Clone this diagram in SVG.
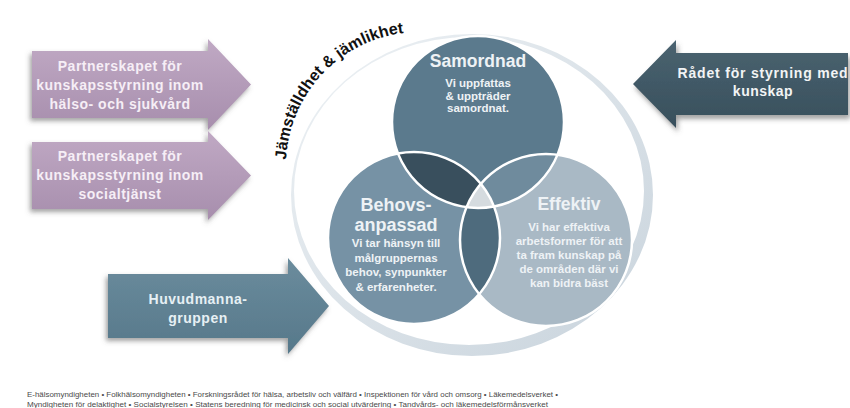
<svg xmlns="http://www.w3.org/2000/svg" width="850" height="408" viewBox="0 0 850 408">
<defs>
<style>
.arrowtxt{font-family:"Liberation Sans",Arial,sans-serif;font-weight:bold;font-size:14px;letter-spacing:0.5px;text-anchor:middle}
.ctitle{font-family:"Liberation Sans",Arial,sans-serif;font-weight:bold;font-size:17.5px;text-anchor:middle;fill:#eef2f5}
.cbody{font-family:"Liberation Sans",Arial,sans-serif;font-weight:bold;font-size:11.5px;text-anchor:middle;fill:#eef2f5}
.foot{font-family:"Liberation Sans",Arial,sans-serif;font-size:7px;fill:#4a4a4a}
.outline{fill:none;stroke:#ffffff;stroke-width:2.5}
</style>
<linearGradient id="gPurple" x1="0" y1="0" x2="0" y2="1">
<stop offset="0" stop-color="#c0a9c4"/><stop offset="1" stop-color="#a78ead"/>
</linearGradient>
<linearGradient id="gSteel" x1="0" y1="0" x2="0" y2="1">
<stop offset="0" stop-color="#6b8c9d"/><stop offset="1" stop-color="#56788a"/>
</linearGradient>
<linearGradient id="gDark" x1="0" y1="0" x2="0" y2="1">
<stop offset="0" stop-color="#4a6370"/><stop offset="1" stop-color="#384f5c"/>
</linearGradient>
<linearGradient id="gRing" x1="0" y1="0" x2="1" y2="1">
<stop offset="0" stop-color="#eef2f5"/><stop offset="1" stop-color="#c8d3dc"/>
</linearGradient>
<filter id="shL" x="-10%" y="-20%" width="120%" height="150%">
<feDropShadow dx="-2" dy="3" stdDeviation="2.5" flood-color="#555" flood-opacity="0.55"/>
</filter>
<filter id="shR" x="-10%" y="-20%" width="120%" height="150%">
<feDropShadow dx="2" dy="4" stdDeviation="2.5" flood-color="#555" flood-opacity="0.55"/>
</filter>
<clipPath id="cA"><circle cx="478" cy="122" r="86"/></clipPath>
<clipPath id="cB"><circle cx="414" cy="238" r="86"/></clipPath>
<path id="arcPath" d="M286.1,170.7 A134,134 0 0 1 443.3,34"/>
</defs>
<rect width="850" height="408" fill="#ffffff"/>

<g id="ring">
<path d="M291,195 a181,161 0 1 0 362,0 a181,161 0 1 0 -362,0 Z M294,191 a175,154 0 1 1 350,0 a175,154 0 1 1 -350,0 Z" fill="url(#gRing)" fill-rule="evenodd"/>
</g>

<g id="venn">
<g id="samordnad">
<circle cx="478" cy="122" r="86" fill="#5b7a8d"/>
</g>
<g id="behovsanpassad">
<circle cx="414" cy="238" r="86" fill="#7692a5"/>
</g>
<g id="effektiv">
<circle cx="546" cy="240" r="86" fill="#a9b9c5"/>
</g>
<circle cx="414" cy="238" r="86" fill="#394f5d" clip-path="url(#cA)"/>
<circle cx="546" cy="240" r="86" fill="#6f8b9d" clip-path="url(#cA)"/>
<circle cx="546" cy="240" r="86" fill="#4e6b7d" clip-path="url(#cB)"/>
<g clip-path="url(#cB)"><circle cx="546" cy="240" r="86" fill="#d5dbdf" clip-path="url(#cA)"/></g>
<circle class="outline" cx="478" cy="122" r="86"/>
<circle class="outline" cx="414" cy="238" r="86"/>
<circle class="outline" cx="546" cy="240" r="86"/>
<g id="samordnad-text">
<text class="ctitle" x="478" y="67">Samordnad</text>
<text class="cbody" x="478" y="87">Vi uppfattas</text>
<text class="cbody" x="478" y="99.5">&amp; uppträder</text>
<text class="cbody" x="478" y="112">samordnat.</text>
</g>
<g id="behovsanpassad-text">
<text class="ctitle" x="396" y="211" style="font-size:18px">Behovs-</text>
<text class="ctitle" x="396" y="231" style="font-size:18px">anpassad</text>
<text class="cbody" x="396" y="247">Vi tar hänsyn till</text>
<text class="cbody" x="396" y="261.5">målgruppernas</text>
<text class="cbody" x="396" y="276">behov, synpunkter</text>
<text class="cbody" x="396" y="290.5">&amp; erfarenheter.</text>
</g>
<g id="effektiv-text">
<text class="ctitle" x="569" y="210">Effektiv</text>
<text class="cbody" x="569" y="231">Vi har effektiva</text>
<text class="cbody" x="569" y="245">arbetsformer för att</text>
<text class="cbody" x="569" y="259">ta fram kunskap på</text>
<text class="cbody" x="569" y="273">de områden där vi</text>
<text class="cbody" x="569" y="287">kan bidra bäst</text>
</g>
</g>

<g id="arc-label">
<text font-family="'Liberation Sans',Arial,sans-serif" font-weight="bold" font-size="16" fill="#111"><textPath href="#arcPath" startOffset="11">Jämställdhet &amp; jämlikhet</textPath></text>
</g>

<g id="partnerskapet-halso">
<path d="M32,51 H208 V39 L251,84.5 L208,130 V118 H32 Z" fill="url(#gPurple)" filter="url(#shL)"/>
<text class="arrowtxt" fill="#f6eef6" x="120" y="71">Partnerskapet för</text>
<text class="arrowtxt" fill="#f6eef6" x="120" y="90">kunskapsstyrning inom</text>
<text class="arrowtxt" fill="#f6eef6" x="120" y="109">hälso- och sjukvård</text>
</g>

<g id="partnerskapet-social">
<path d="M32,142 H208 V131 L251,175.5 L208,220 V209 H32 Z" fill="url(#gPurple)" filter="url(#shL)"/>
<text class="arrowtxt" fill="#f6eef6" x="120" y="161">Partnerskapet för</text>
<text class="arrowtxt" fill="#f6eef6" x="120" y="180">kunskapsstyrning inom</text>
<text class="arrowtxt" fill="#f6eef6" x="120" y="199">socialtjänst</text>
</g>

<g id="huvudmannagruppen">
<path d="M108,274 H288 V258 L329,306 L288,354 V338 H108 Z" fill="url(#gSteel)" filter="url(#shL)"/>
<text class="arrowtxt" fill="#e6f0f4" x="198" y="304">Huvudmanna-</text>
<text class="arrowtxt" fill="#e6f0f4" x="198" y="323">gruppen</text>
</g>

<g id="radet">
<path d="M633,84 L676,40 V53 H848 V115 H676 V128 Z" fill="url(#gDark)" filter="url(#shR)"/>
<text class="arrowtxt" fill="#f2f4f5" x="763" y="78" style="letter-spacing:0.8px">Rådet för styrning med</text>
<text class="arrowtxt" fill="#f2f4f5" x="763" y="96">kunskap</text>
</g>

<g id="connectors"></g>

<g id="footer">
<text class="foot" x="27" y="397" textLength="531" lengthAdjust="spacingAndGlyphs">E-hälsomyndigheten • Folkhälsomyndigheten • Forskningsrådet för hälsa, arbetsliv och välfärd • Inspektionen för vård och omsorg • Läkemedelsverket •</text>
<text class="foot" x="27" y="407" textLength="521" lengthAdjust="spacingAndGlyphs">Myndigheten för delaktighet • Socialstyrelsen • Statens beredning för medicinsk och social utvärdering • Tandvårds- och läkemedelsförmånsverket</text>
</g>
</svg>
